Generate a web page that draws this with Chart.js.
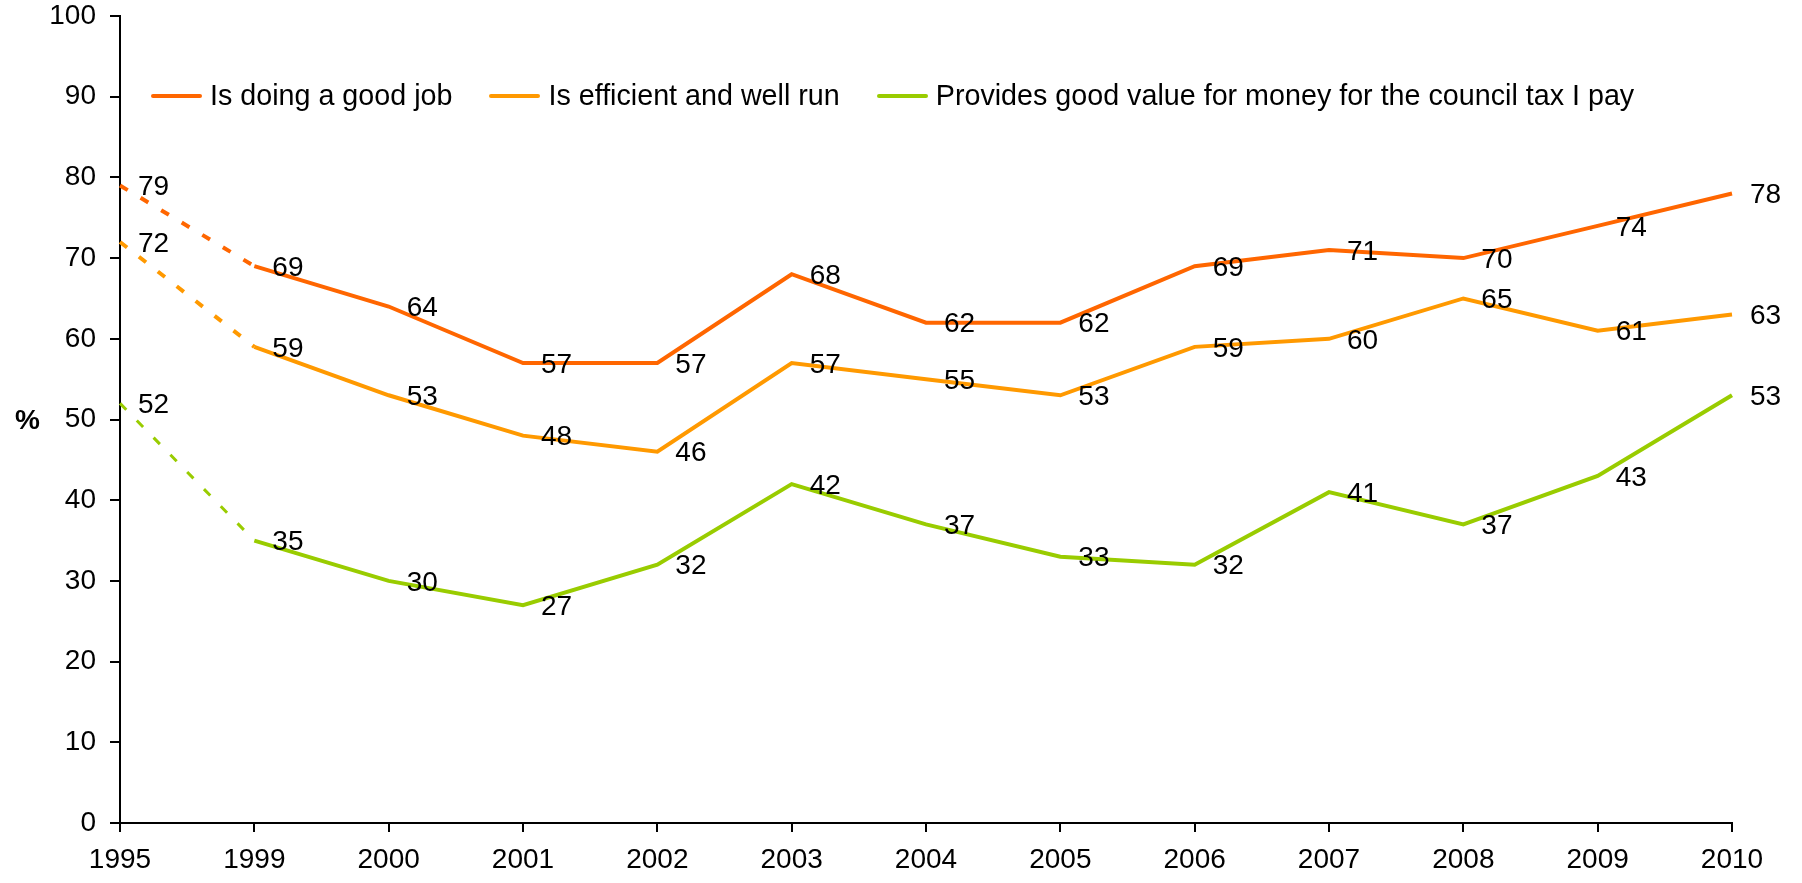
<!DOCTYPE html>
<html lang="en">
<head>
    <meta charset="UTF-8">
    <title>Council ratings 1995-2010</title>
    <style>
        body {
            margin: 0;
            background: #ffffff;
            overflow: hidden;
            font-family: "Liberation Sans", Arial, sans-serif;
        }
        .wrap {
            position: relative;
            width: 1802px;
            height: 883px;
        }
        .legend {
            position: absolute;
            left: 151px;
            top: 79px;
            display: flex;
            align-items: center;
            gap: 37px;
            font-size: 28.7px;
            color: #000;
            white-space: nowrap;
        }
        .legend .item {
            display: flex;
            align-items: center;
            gap: 8px;
        }
        .legend .swatch {
            display: inline-block;
            width: 51px;
            height: 4px;
            border-radius: 2px;
        }
        .ytitle {
            position: absolute;
            left: 15px;
            top: 403px;
            font-size: 28px;
            font-weight: bold;
            line-height: 34px;
        }
    </style>
    <script src="https://cdn.jsdelivr.net/npm/chart.js"></script>
</head>
<body>
    <div class="wrap">
        <canvas id="chart"></canvas>
        <div class="legend" id="legend"></div>
        <div class="ytitle">%</div>
    </div>

    <script>
        const years = ['1995', '1999', '2000', '2001', '2002', '2003', '2004', '2005', '2006', '2007', '2008', '2009', '2010'];
        const goodJob = [79, 69, 64, 57, 57, 68, 62, 62, 69, 71, 70, 74, 78];
        const efficient = [72, 59, 53, 48, 46, 57, 55, 53, 59, 60, 65, 61, 63];
        const valueForMoney = [52, 35, 30, 27, 32, 42, 37, 33, 32, 41, 37, 43, 53];
        const seriesNames = ['Is doing a good job', 'Is efficient and well run', 'Provides good value for money for the council tax I pay'];
        const seriesColors = ['#FF6600', '#FF9900', '#99CC00'];

        const FONT = '"Liberation Sans", Arial, sans-serif';

        // labels to the right of each point, like the original
        const valueLabels = {
            id: 'valueLabels',
            afterDatasetsDraw(chart) {
                const ctx = chart.ctx;
                ctx.save();
                ctx.font = '28px ' + FONT;
                ctx.fillStyle = '#000';
                ctx.textAlign = 'left';
                ctx.textBaseline = 'middle';
                chart.data.datasets.forEach((ds, i) => {
                    const meta = chart.getDatasetMeta(i);
                    meta.data.forEach((pt, j) => {
                        ctx.fillText(String(ds.data[j]), pt.x + 18, pt.y + 2);
                    });
                });
                ctx.restore();
            }
        };

        function makeDataset(label, data, color, dashWidth) {
            return {
                label: label,
                data: data,
                borderColor: color,
                backgroundColor: color,
                borderWidth: 4,
                pointRadius: 0,
                tension: 0,
                fill: false,
                segment: {
                    // first gap (1995 -> 1999) is dashed
                    borderDash: c => c.p0DataIndex === 0 ? [9, 15] : undefined,
                    borderWidth: c => c.p0DataIndex === 0 ? dashWidth : undefined
                }
            };
        }

        const chart = new Chart(document.getElementById('chart'), {
            type: 'line',
            data: {
                labels: years,
                datasets: [
                    makeDataset(seriesNames[0], goodJob, seriesColors[0], 4),
                    makeDataset(seriesNames[1], efficient, seriesColors[1], 4),
                    makeDataset(seriesNames[2], valueForMoney, seriesColors[2], 3)
                ]
            },
            options: {
                responsive: true,
                maintainAspectRatio: false,
                animation: false,
                layout: {
                    padding: { top: 16, right: 70, bottom: 0, left: 0 }
                },
                plugins: {
                    legend: { display: false },
                    tooltip: { enabled: false }
                },
                scales: {
                    x: {
                        offset: false,
                        grid: {
                            drawOnChartArea: false,
                            drawTicks: true,
                            tickLength: 9,
                            color: '#000',
                            lineWidth: 2,
                            offset: false
                        },
                        border: { color: '#000', width: 2 },
                        ticks: {
                            color: '#000',
                            padding: 11,
                            maxRotation: 0,
                            autoSkip: false,
                            font: { family: FONT, size: 28, lineHeight: 1.2 }
                        },
                        afterFit(scale) { scale.height = 60; }
                    },
                    y: {
                        min: 0,
                        max: 100,
                        grid: {
                            drawOnChartArea: false,
                            drawTicks: true,
                            tickLength: 10,
                            color: '#000',
                            lineWidth: 2
                        },
                        border: { color: '#000', width: 2 },
                        ticks: {
                            stepSize: 10,
                            color: '#000',
                            padding: 14,
                            font: { family: FONT, size: 28, lineHeight: 1 }
                        },
                        afterFit(scale) {
                            scale.width = 120;
                            // keep the plot top at the layout padding
                            scale.paddingTop = 0;
                            scale.paddingBottom = 0;
                        }
                    }
                }
            },
            plugins: [valueLabels]
        });

        // legend drawn as html inside the plot area
        const legendEl = document.getElementById('legend');
        seriesNames.forEach((name, i) => {
            const item = document.createElement('div');
            item.className = 'item';
            item.innerHTML = '<span class="swatch" style="background:' + seriesColors[i] + '"></span><span>' + name + '</span>';
            legendEl.appendChild(item);
        });
    </script>
</body>
</html>
